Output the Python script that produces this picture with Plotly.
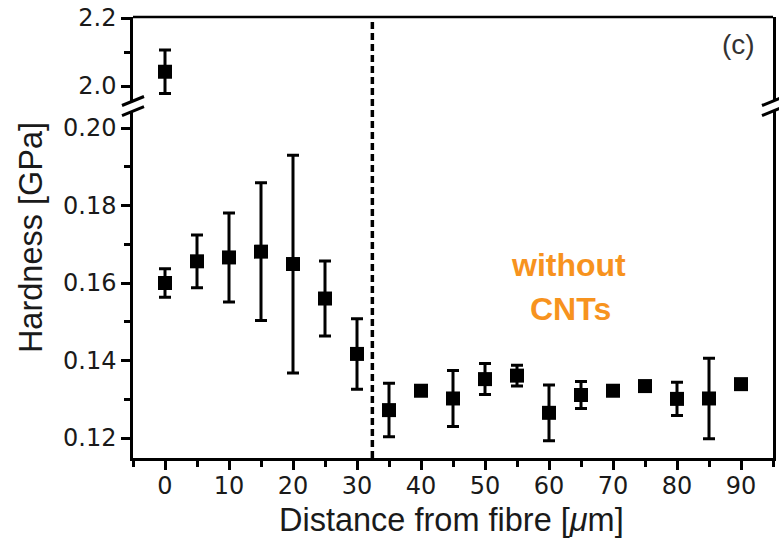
import plotly.graph_objects as go

# ---- data ----
dist_upper = [0]
hard_upper = [2.042]
err_upper = [0.064]

dist_lower = [0, 5, 10, 15, 20, 25, 30, 35, 40, 45, 50, 55, 60, 65, 70, 75, 80, 85, 90]
hard_lower = [0.1600, 0.1656, 0.1666, 0.1681, 0.1649, 0.1560, 0.1417, 0.1272, 0.1322,
              0.1302, 0.1352, 0.1361, 0.1265, 0.1311, 0.1322, 0.1334, 0.1301, 0.1302, 0.1339]
err_lower = [0.0037, 0.0068, 0.0115, 0.0178, 0.0281, 0.0097, 0.0091, 0.0069, 0.0004,
             0.0072, 0.0040, 0.0027, 0.0072, 0.0035, 0.0004, 0.0003, 0.0043, 0.0104, 0.0003]

boundary_x = 32.4

x_ticks = [0, 10, 20, 30, 40, 50, 60, 70, 80, 90]
y_lower_ticks = [0.12, 0.14, 0.16, 0.18, 0.20]
y_upper_ticks = [2.0, 2.2]

# ---- geometry ----
upper_dom = [0.8095, 1.0]
lower_dom = [0.0, 0.7868]
upper_rng = [1.9559, 2.203]
lower_rng = [0.11484, 0.20439]

tick_font = dict(family="DejaVu Sans", size=24, color="#1a1a1a")
title_font = dict(family="Liberation Sans, Arial", size=32.5, color="#1a1a1a")

marker = dict(symbol="square", size=14, color="black")

fig = go.Figure()
fig.add_trace(go.Scatter(
    x=dist_lower, y=hard_lower, mode="markers", marker=marker,
    error_y=dict(type="data", array=err_lower, visible=True, color="black",
                 thickness=3, width=6),
    xaxis="x", yaxis="y", showlegend=False))
fig.add_trace(go.Scatter(
    x=dist_upper, y=hard_upper, mode="markers", marker=marker,
    error_y=dict(type="data", array=err_upper, visible=True, color="black",
                 thickness=3, width=6),
    xaxis="x", yaxis="y2", showlegend=False))

axis_common = dict(showline=True, linewidth=2.5, linecolor="black", ticks="outside",
                   ticklen=9, tickwidth=2.5, tickcolor="black", showgrid=False,
                   zeroline=False, tickfont=tick_font)

fig.update_layout(
    width=779, height=540,
    margin=dict(l=133, r=3, t=17, b=82),
    paper_bgcolor="white", plot_bgcolor="white",
    xaxis=dict(range=[-5, 95], tickvals=x_ticks, anchor="y", ticklabelstandoff=-5,
               minor=dict(dtick=5, tick0=-5, ticklen=6, tickwidth=2.5,
                          tickcolor="black", ticks="outside", showgrid=False),
               **axis_common),
    yaxis=dict(domain=lower_dom, range=lower_rng, tickvals=y_lower_ticks,
               ticktext=["0.12", "0.14", "0.16", "0.18", "0.20"], anchor="x",
               mirror=True,
               minor=dict(dtick=0.01, tick0=0.11, ticklen=6, tickwidth=2.5,
                          tickcolor="black", ticks="outside", showgrid=False),
               **axis_common),
    yaxis2=dict(domain=upper_dom, range=upper_rng, tickvals=y_upper_ticks,
                ticktext=["2.0", "2.2"], anchor="x", mirror=True,
                minor=dict(dtick=0.1, tick0=2.0, ticklen=6, tickwidth=2.5,
                           tickcolor="black", ticks="outside", showgrid=False),
                **axis_common),
)

shapes = []
# top frame line
shapes.append(dict(type="line", xref="paper", yref="paper", x0=0, x1=1, y0=1, y1=1,
                   line=dict(color="black", width=2.5)))
# dashed boundary
shapes.append(dict(type="line", xref="x", yref="paper", x0=boundary_x, x1=boundary_x,
                   y0=0, y1=1, line=dict(color="black", width=3.5, dash="7px,4px")))
# axis break marks
for xa in (0, 1):
    for ya in (upper_dom[0], lower_dom[1]):
        shapes.append(dict(type="line", xref="paper", yref="paper",
                           xsizemode="pixel", ysizemode="pixel",
                           xanchor=xa, yanchor=ya,
                           x0=-11, x1=11, y0=-4.5, y1=4.5,
                           line=dict(color="black", width=3)))
fig.update_layout(shapes=shapes)

annotations = [
    dict(text="Hardness [GPa]", xref="paper", yref="paper", x=-0.160, y=0.5,
         textangle=-90, showarrow=False, font=title_font,
         xanchor="center", yanchor="middle"),
    dict(text="Distance from fibre [<i>μ</i>m]", xref="paper", yref="paper",
         x=0.497, y=-0.1406, showarrow=False, font=title_font,
         xanchor="center", yanchor="middle"),
    dict(text="(c)", xref="paper", yref="paper", x=0.946, y=0.937, showarrow=False,
         font=dict(family="Liberation Sans, Arial", size=28, color="#333"),
         xanchor="center", yanchor="middle"),
    dict(text="<b>without</b>", xref="x", yref="y", x=63.0, y=0.16465, showarrow=False,
         font=dict(family="Liberation Sans, Arial", size=32, color="#F7931E"),
         xanchor="center", yanchor="middle"),
    dict(text="<b>CNTs</b>", xref="x", yref="y", x=63.3, y=0.1533, showarrow=False,
         font=dict(family="Liberation Sans, Arial", size=32, color="#F7931E"),
         xanchor="center", yanchor="middle"),
]
fig.update_layout(annotations=annotations)

fig.write_html("out.html")
